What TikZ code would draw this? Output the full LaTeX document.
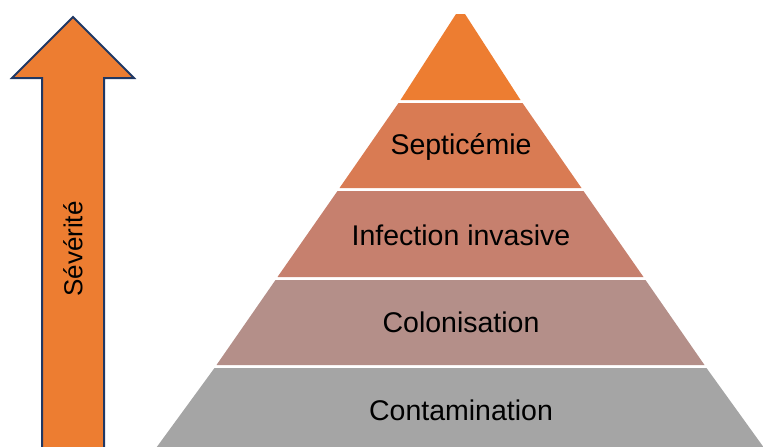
\documentclass[tikz,border=0pt]{standalone}
\usepackage{fontspec}
\setmainfont{Liberation Sans}
\definecolor{tipOrange}{HTML}{ED7D31}
\definecolor{septColor}{HTML}{D97B53}
\definecolor{infColor}{HTML}{C6806E}
\definecolor{colColor}{HTML}{B48F89}
\definecolor{contColor}{HTML}{A5A5A5}
\definecolor{arrowEdge}{HTML}{203864}
\begin{document}
\begin{tikzpicture}[x=1pt, y=-1pt,
  lvl/.style={font=\fontsize{28.5}{32}\selectfont, text=black},
  sevtext/.style={font=\fontsize{26}{30}\selectfont, text=black, rotate=90}]

\useasboundingbox (0,0) rectangle (763,447);
\clip (0,0) rectangle (763,447);

% pyramid, apex at (460.5,7.5), half width = 0.695*(y-7.5)
\fill[tipOrange] (456,14) -- (465,14) -- (520.5,100) -- (400.5,100) -- cycle;
\fill[septColor] (398.5,103) -- (522.5,103) -- (581.5,188) -- (339.5,188) -- cycle;
\fill[infColor] (337.5,191) -- (583.5,191) -- (643.5,277) -- (277.5,277) -- cycle;
\fill[colColor] (275.5,280) -- (645.5,280) -- (704.5,365) -- (216.5,365) -- cycle;
\fill[contColor] (214.5,368) -- (706.5,368) -- (780,470) -- (140,470) -- cycle;

\node[lvl] (sept) at (461,147) {Septicémie};
\node[lvl] (inf) at (461,235) {Infection invasive};
\node[lvl] (col) at (461,322) {Colonisation};
\node[lvl] (cont) at (461,410) {Contamination};

% severity arrow
\draw[arrowEdge, line width=2pt, fill=tipOrange, line join=miter]
  (73,17) -- (134,78) -- (104,78) -- (104,460) -- (42,460) -- (42,78) -- (12,78) -- cycle;
\node[sevtext] (sev) at (73,249) {Sévérité};

\end{tikzpicture}
\end{document}
